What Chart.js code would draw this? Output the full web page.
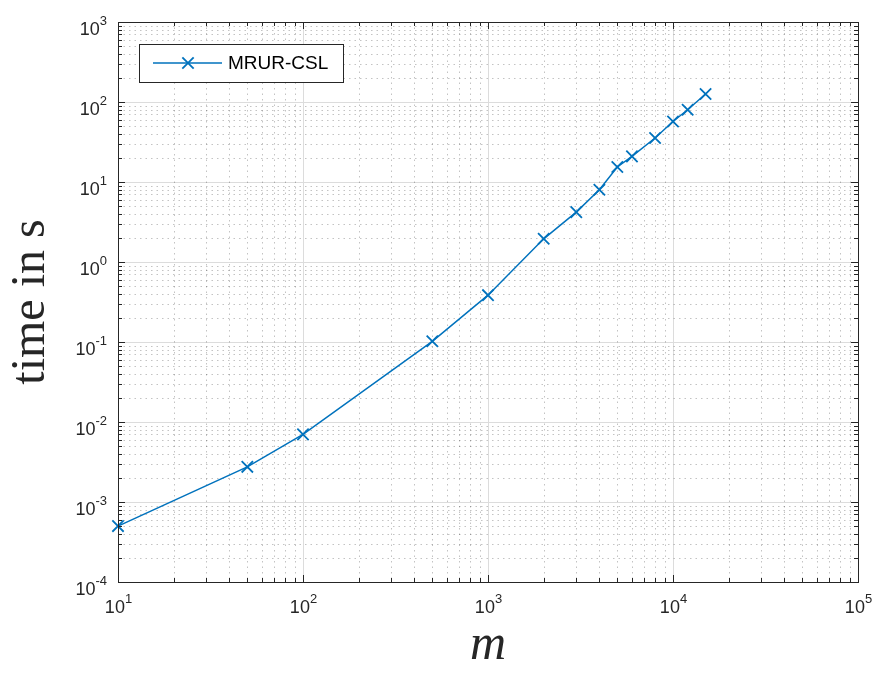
<!DOCTYPE html>
<html>
<head>
<meta charset="utf-8">
<script src="https://cdn.jsdelivr.net/npm/chart.js@4"></script>
<style>
  html, body { margin: 0; padding: 0; background: #fff; }
  #wrap { width: 879px; height: 673px; }
</style>
</head>
<body>
<div id="wrap"><canvas id="timing-chart" width="879" height="673"></canvas></div>
<script>
// --- DATA ---
const mValues = [10, 50, 100, 500, 1000, 2000, 3000, 4000, 5000, 6000, 8000, 10000, 12000, 15000];
const timeValues = [5.0e-4, 2.75e-3, 7.0e-3, 0.102, 0.385, 1.95, 4.2, 8.0, 15.4, 20.9, 35.5, 57, 80, 126];
const xExponents = [1, 2, 3, 4, 5];
const yExponents = [-4, -3, -2, -1, 0, 1, 2, 3];
const seriesLabel = 'MRUR-CSL';

// --- STYLE ---
const LINE_BLUE = '#0072BD';
const AXIS_GREY = '#262626';
const TICK_FONT = '"Liberation Sans", Arial, sans-serif';

// draws "10" with a raised exponent, anchored at x with given alignment
function drawPower(ctx, exp, x, baseY, align) {
    const base = '10';
    const sup = String(exp);
    ctx.font = '18px ' + TICK_FONT;
    const wBase = ctx.measureText(base).width;
    ctx.font = '13px ' + TICK_FONT;
    const wSup = ctx.measureText(sup).width;
    const total = wBase + wSup;
    let x0 = align === 'center' ? x - total / 2 : x - total;
    ctx.textAlign = 'left';
    ctx.textBaseline = 'alphabetic';
    ctx.fillStyle = AXIS_GREY;
    ctx.font = '18px ' + TICK_FONT;
    ctx.fillText(base, x0, baseY);
    ctx.font = '13px ' + TICK_FONT;
    ctx.fillText(sup, x0 + wBase, baseY - 10);
}

// minor dotted grid, drawn under the data
const minorGrid = {
    id: 'minorGrid',
    beforeDatasetsDraw(chart) {
        const { ctx, chartArea: a, scales: { x, y } } = chart;
        ctx.save();
        ctx.strokeStyle = 'rgba(38,38,38,0.28)';
        ctx.lineWidth = 1;
        ctx.setLineDash([1.5, 4]);
        xExponents.slice(0, -1).forEach(e => {
            for (let k = 2; k <= 9; k++) {
                const px = Math.round(x.getPixelForValue(k * 10 ** e)) + 0.5;
                ctx.beginPath(); ctx.moveTo(px, a.top); ctx.lineTo(px, a.bottom); ctx.stroke();
            }
        });
        yExponents.slice(0, -1).forEach(e => {
            for (let k = 2; k <= 9; k++) {
                const py = Math.round(y.getPixelForValue(k * 10 ** e)) + 0.5;
                ctx.beginPath(); ctx.moveTo(a.left, py); ctx.lineTo(a.right, py); ctx.stroke();
            }
        });
        ctx.restore();
    }
};

// box, inward ticks, tick labels and legend
const matlabAxes = {
    id: 'matlabAxes',
    afterDraw(chart) {
        const { ctx, chartArea: a, scales: { x, y } } = chart;
        ctx.save();
        ctx.strokeStyle = AXIS_GREY;
        ctx.lineWidth = 1;
        ctx.strokeRect(Math.round(a.left) + 0.5, Math.round(a.top) + 0.5,
            Math.round(a.right - a.left), Math.round(a.bottom - a.top));

        const tick = (x1, y1, x2, y2) => {
            ctx.beginPath(); ctx.moveTo(x1, y1); ctx.lineTo(x2, y2); ctx.stroke();
        };
        xExponents.forEach((e, i) => {
            const px = Math.round(x.getPixelForValue(10 ** e)) + 0.5;
            tick(px, a.bottom, px, a.bottom - 7);
            tick(px, a.top, px, a.top + 7);
            drawPower(ctx, e, px, 613, 'center');
            if (i < xExponents.length - 1) {
                for (let k = 2; k <= 9; k++) {
                    const mx = Math.round(x.getPixelForValue(k * 10 ** e)) + 0.5;
                    tick(mx, a.bottom, mx, a.bottom - 4);
                    tick(mx, a.top, mx, a.top + 4);
                }
            }
        });
        yExponents.forEach((e, i) => {
            const py = Math.round(y.getPixelForValue(10 ** e)) + 0.5;
            tick(a.left, py, a.left + 7, py);
            tick(a.right, py, a.right - 7, py);
            drawPower(ctx, e, 107, py + 12, 'right');
            if (i < yExponents.length - 1) {
                for (let k = 2; k <= 9; k++) {
                    const my = Math.round(y.getPixelForValue(k * 10 ** e)) + 0.5;
                    tick(a.left, my, a.left + 4, my);
                    tick(a.right, my, a.right - 4, my);
                }
            }
        });

        // legend box in the upper left corner
        const ds = chart.data.datasets[0];
        const bx = a.left + 21, by = a.top + 22, bw = 204, bh = 38;
        ctx.fillStyle = '#fff';
        ctx.fillRect(bx, by, bw, bh);
        ctx.strokeStyle = AXIS_GREY;
        ctx.strokeRect(bx + 0.5, by + 0.5, bw, bh);
        const ly = by + bh / 2;
        ctx.strokeStyle = ds.borderColor;
        ctx.lineWidth = ds.borderWidth;
        tick(bx + 14, ly, bx + 83, ly);
        const r = ds.pointRadius * Math.SQRT1_2;
        const cx = bx + 49;
        ctx.lineWidth = ds.pointBorderWidth;
        tick(cx - r, ly - r, cx + r, ly + r);
        tick(cx - r, ly + r, cx + r, ly - r);
        ctx.fillStyle = '#000';
        ctx.font = '19px ' + TICK_FONT;
        ctx.textAlign = 'left';
        ctx.textBaseline = 'middle';
        ctx.fillText(ds.label, bx + 89, ly + 1);
        ctx.restore();
    }
};

const points = mValues.map((m, i) => ({ x: m, y: timeValues[i] }));

new Chart(document.getElementById('timing-chart'), {
    type: 'scatter',
    data: {
        datasets: [{
            label: seriesLabel,
            data: points,
            showLine: true,
            clip: false,
            borderColor: LINE_BLUE,
            backgroundColor: LINE_BLUE,
            borderWidth: 1.5,
            pointStyle: 'crossRot',
            pointRadius: 8,
            pointBorderWidth: 1.8,
            pointBorderColor: LINE_BLUE
        }]
    },
    options: {
        responsive: false,
        animation: false,
        events: [],
        layout: { padding: { top: 22, right: 21, left: 0, bottom: 0 } },
        plugins: { legend: { display: false }, tooltip: { enabled: false } },
        scales: {
            x: {
                type: 'logarithmic',
                min: 10 ** xExponents[0],
                max: 10 ** xExponents[xExponents.length - 1],
                afterBuildTicks: s => { s.ticks = xExponents.map(e => ({ value: 10 ** e })); },
                afterFit: s => { s.height = 91; },
                ticks: { display: false },
                grid: { color: '#dcdcdc', lineWidth: 1, drawTicks: false },
                border: { display: false },
                title: {
                    display: true,
                    text: 'm',
                    color: AXIS_GREY,
                    font: { family: '"Liberation Serif", "Times New Roman", serif', size: 50, style: 'italic', lineHeight: 1 },
                    padding: { top: 0, bottom: 2 }
                }
            },
            y: {
                type: 'logarithmic',
                min: 10 ** yExponents[0],
                max: 10 ** yExponents[yExponents.length - 1],
                afterBuildTicks: s => { s.ticks = yExponents.map(e => ({ value: 10 ** e })); },
                afterFit: s => { s.width = 118; },
                ticks: { display: false },
                grid: { color: '#dcdcdc', lineWidth: 1, drawTicks: false },
                border: { display: false },
                title: {
                    display: true,
                    text: 'time in s',
                    color: AXIS_GREY,
                    font: { family: '"Liberation Serif", "Times New Roman", serif', size: 48, lineHeight: 1 },
                    padding: { top: 7, bottom: 0 }
                }
            }
        }
    },
    plugins: [minorGrid, matlabAxes]
});
</script>
</body>
</html>
